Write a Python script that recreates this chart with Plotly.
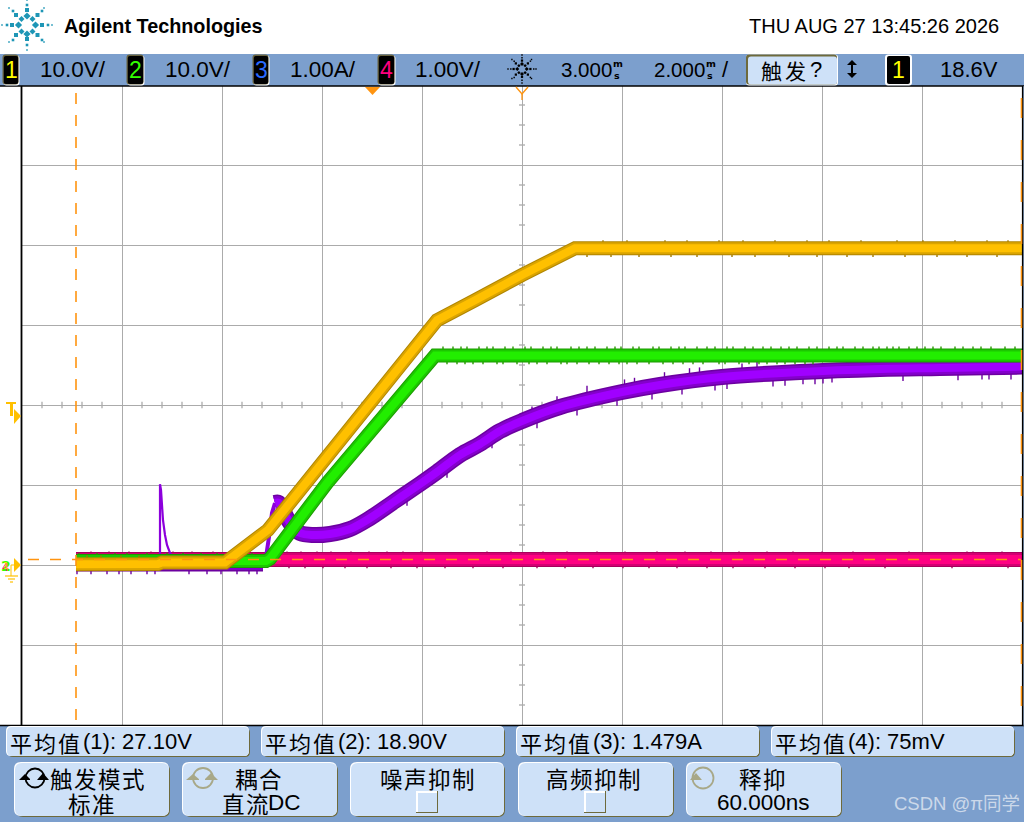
import plotly.graph_objects as go

# ---------- data (time in ms, 2 ms/div; delay 3 ms) ----------
ch1_t = [-5.92, -4.28, -4.20, -2.94, -2.08, 1.30, 2.06, 3.00, 4.06, 13.0]
ch1_v = [0.1, 0.12, 0.31, 0.31, 4.38, 30.6, 33.1, 36.25, 39.6, 39.6]

ch2_t = [-5.92, -2.12, -2.04, -0.90, 1.26, 13.0]
ch2_v = [0.5, 0.5, 0.8, 10.25, 26.2, 26.2]

ch3_flat_t = [-5.92, -2.18]
ch3_flat_i = [0.0, 0.0]
ch3_spike_t = [-4.24, -4.24, -4.22, -4.20, -4.18, -4.14, -4.10, -4.04, -3.94]
ch3_spike_i = [-0.01, 1.01, 0.94, 0.75, 0.56, 0.375, 0.25, 0.15, 0.06]
ch3_rise_t = [-2.16, -2.12, -2.06, -2.00, -1.94]
ch3_rise_i = [0.02, 0.10, 0.35, 0.65, 0.775]
ch3_t = [-1.94, -1.86, -1.70, -1.58, -1.44, -1.20, -0.84, -0.44, -0.10, 0.46, 0.96, 1.30, 1.76,
         2.16, 2.56, 3.00, 3.76, 5.00, 5.76, 7.00, 8.56, 10.16, 11.36, 13.0]
ch3_i = [0.775, 0.775, 0.5875, 0.475, 0.40, 0.375, 0.3875, 0.45, 0.5625, 0.80, 1.0125, 1.1625, 1.375,
         1.5125, 1.675, 1.80, 1.975, 2.1625, 2.25, 2.35, 2.4125, 2.45, 2.4625, 2.48]

ch4_t = [-5.92, 13.0]
ch4_v = [0.07, 0.07]

# noise ticks: times at which a short glitch pokes out of each flat band
ch1_up = [4.62, 5.1, 5.86, 6.3, 6.94, 7.42, 8.06, 8.7, 9.14, 9.78, 10.5, 11.02, 11.66, 12.3, 12.72]
ch1_dn = [4.3, 4.78, 5.34, 5.98, 6.5, 7.2, 7.66, 8.34, 8.9, 9.5, 10.02, 10.66, 11.3, 11.9, 12.5]
ch1_base_up = [-5.7, -5.42, -5.02, -4.66]
ch2_up = [1.42, 1.62, 1.78, 1.9, 2.14, 2.3, 2.42, 2.66, 2.82, 3.06, 3.18, 3.42, 3.58, 3.7, 3.98, 4.14, 4.3, 4.46,
          4.7, 4.86, 4.98, 5.22, 5.34, 5.62, 5.74, 5.98, 6.14, 6.26, 6.5, 6.7, 6.86, 7.1, 7.22, 7.46, 7.62, 7.82,
          7.98, 8.18, 8.34, 8.5, 8.74, 8.9, 9.14, 9.3, 9.42, 9.66, 9.82, 10.02, 10.14, 10.3, 10.42, 10.54,
          10.74, 10.9, 11.06, 11.22, 11.38, 11.66, 11.82, 12.02, 12.18, 12.38, 12.66, 12.86]
ch2_dn = [1.5, 1.7, 1.86, 2.02, 2.22, 2.5, 2.62, 2.9, 3.14, 3.3, 3.5, 3.78, 3.9, 4.1, 4.34, 4.54, 4.74, 4.94, 5.1,
          5.3, 5.54, 5.82, 6.02, 6.22, 6.42, 6.62, 6.94, 7.06, 7.34, 7.54, 7.74, 7.9, 8.1, 8.26, 8.46, 8.66, 8.82]
ch2_base_up = [-5.86, -5.5, -5.14, -4.9, -4.5, -4.1, -3.78, -3.42, -3.1, -2.74, -2.4]
ch3_dn = [-5.9, -5.62, -5.3, -5.06, -4.82, -4.5, -4.34, -3.66, -3.3, -3.02, -2.7, -2.46, -2.3]
ch3_tail_t = [0.7, 1.5, 2.4, 3.3, 4.1, 4.9, 5.6, 6.2, 6.86, 7.1, 8.02, 8.26, 8.62, 8.86, 9.02, 9.2, 10.62, 11.72, 12.2, 12.34, 12.78]
ch3_tail_i = [0.74, 1.09, 1.46, 1.71, 1.87, 1.99, 2.07, 2.13, 2.18, 2.2, 2.23, 2.24, 2.26, 2.26, 2.27, 2.28, 2.3, 2.31, 2.32, 2.32, 2.32]
ch3_top_t = [3.2, 3.7, 4.3, 5.05, 5.25, 5.85, 6.35, 6.55, 7.4, 7.7]
ch3_top_i = [1.98, 2.11, 2.24, 2.32, 2.34, 2.41, 2.46, 2.47, 2.52, 2.54]
ch4_up = [-5.62, -5.26, -4.86, -4.42, -3.98, -3.6, -3.18, -2.82, -2.5, -1.7, -1.42, -1.1, -0.82, -0.42, -0.06, 0.3,
          0.62, 0.98, 2.3, 2.78, 3.42, 3.9, 4.5, 5.06, 5.7, 6.26, 6.78, 7.34, 7.9, 8.42, 9.0, 9.62, 10.74, 11.9, 12.02, 12.6]
ch4_dn = [-1.66, -1.34, -0.98, -0.54, -0.1, 0.38, 0.9, 1.46, 2.02, 2.62, 3.3, 3.86, 4.42, 5.02, 5.54, 6.1, 6.7, 7.22,
          7.86, 8.46, 9.06, 9.54, 10.26, 11.6, 12.72]

# ---------- screen text ----------
channel_labels = ["10.0V/", "10.0V/", "1.00A/", "1.00V/"]
readouts = ["(1): 27.10V", "(2): 18.90V", "(3): 1.479A", "(4): 75mV"]
date_text = "THU AUG 27 13:45:26 2026"

LAT = "Liberation Sans"
CJK = "Noto Sans CJK SC"
PANEL = "#7C9FCD"
BTN = "#CEE1F8"
OLIVE = "#6E6A3C"
GRID = "#ABABAB"
ORANGE = "#FF9410"
TRIG = "#FFC000"

def X(px):
    return (px - 22) / 1000
def Y(py):
    return (725 - py) / 640

shapes, notes = [], []

def poly(points, fill=None, line=None, lw=1, layer="above", close=True):
    d = "M" + " L".join(f"{X(a):.5f},{Y(b):.5f}" for a, b in points) + (" Z" if close else "")
    shapes.append(dict(type="path", xref="paper", yref="paper", path=d, fillcolor=fill or "rgba(0,0,0,0)",
                       line=dict(color=line or "rgba(0,0,0,0)", width=lw), layer=layer))

def rrect(x0, y0, x1, y1, r, fill):
    k = lambda a, b: f"{X(a):.5f},{Y(b):.5f}"
    d = (f"M{k(x0+r,y0)} L{k(x1-r,y0)} Q{k(x1,y0)} {k(x1,y0+r)} L{k(x1,y1-r)} Q{k(x1,y1)} {k(x1-r,y1)} "
         f"L{k(x0+r,y1)} Q{k(x0,y1)} {k(x0,y1-r)} L{k(x0,y0+r)} Q{k(x0,y0)} {k(x0+r,y0)} Z")
    shapes.append(dict(type="path", xref="paper", yref="paper", path=d, fillcolor=fill,
                       line=dict(color="rgba(0,0,0,0)", width=0), layer="above"))

def rect(x0, y0, x1, y1, fill=None, line=None, lw=1, layer="above"):
    shapes.append(dict(type="rect", xref="paper", yref="paper", x0=X(x0), x1=X(x1), y0=Y(y1), y1=Y(y0),
                       fillcolor=fill or "rgba(0,0,0,0)", line=dict(color=line or "rgba(0,0,0,0)", width=lw), layer=layer))

def seg(x0, y0, x1, y1, color, lw=1, dash=None, layer="above"):
    ln = dict(color=color, width=lw)
    if dash:
        ln["dash"] = dash
    shapes.append(dict(type="line", xref="paper", yref="paper", x0=X(x0), x1=X(x1), y0=Y(y0), y1=Y(y1), line=ln, layer=layer))

def circ(cx, cy, r, line, lw=1.6):
    shapes.append(dict(type="circle", xref="paper", yref="paper", x0=X(cx-r), x1=X(cx+r), y0=Y(cy+r), y1=Y(cy-r),
                       line=dict(color=line, width=lw), layer="above"))

def text(px, py, s, size, color="#000000", anchor="left", family=LAT + ", " + CJK, bold=False):
    t = f"<b>{s}</b>" if bold else s
    notes.append(dict(xref="paper", yref="paper", x=X(px), y=Y(py), text=t, showarrow=False, xanchor=anchor, yanchor="middle",
                      font=dict(family=family, size=size, color=color), borderpad=0, borderwidth=0))

def spaced(px, py, s, size, pitch, color="#000000"):
    for i, c in enumerate(s):
        text(px + i * pitch, py, c, size, color=color, anchor="left", family=CJK)

def button(x0, y0, x1, y1, r=5):
    rrect(x0 + 1, y0 + 1, x1 + 1, y1 + 1, r, OLIVE)
    rrect(x0 - 1, y0 - 1, x1, y1, r, "#FFFFFF")
    rrect(x0, y0, x1, y1, r, BTN)

def chip(x0, x1, digit, color):
    rrect(x0 + 0.5, 55.5, x1 + 0.5, 85.5, 3, "#FFFFFF")
    rrect(x0 - 0.5, 54.5, x1 - 0.5, 84.5, 3, "#6A6440")
    rrect(x0 + 0.8, 56, x1 - 0.8, 84, 2, "#000000")
    text((x0 + x1) / 2, 70, digit, 23, color=color, anchor="center", family=LAT)

# star logo marks: (dx, dy, half size, diamond)
star = [
    (0, -25, .8, 0), (0, -20, 1.3, 0), (0, -15, 2, 0), (0, -9, 3.6, 1),
    (0, 25, .8, 0), (0, 20, 1.3, 0), (0, 14, 2, 0), (0, 9, 3.6, 1),
    (-25, 0, .8, 0), (-20, 0, 1.3, 0), (-15, 0, 2, 0), (-8.5, 0, 3.6, 1),
    (25, 0, .8, 0), (21, 0, 1.3, 0), (15, 0, 2, 0), (8.5, 0, 3.6, 1),
    (-11, -10, 2, 0), (-14, -14, 1.3, 0), (-18, -17, .8, 0),
    (10.5, -10, 2, 0), (15, -14, 1.3, 0), (17, -17, .8, 0),
    (-11, 10, 2, 0), (-14, 15, 1.3, 0), (-18, 17, .8, 0),
    (10.5, 10, 2, 0), (15, 15, 1.3, 0), (17, 17, .8, 0),
    (-5.5, -6, 3, 1), (5.5, -6, 3, 1), (-5.5, 6.5, 3, 1), (5.5, 6.5, 3, 1),
]

def draw_star(cx, cy, k, color):
    for dx, dy, s, dia in star:
        a, b, h = cx + dx * k, cy + dy * k, max(s * k, 0.7)
        if dia:
            poly([(a - h, b), (a, b - h), (a + h, b), (a, b + h)], fill=color)
        else:
            rect(a - h, b - h, a + h, b + h, fill=color)

# ---------- panels ----------
rect(0, 54, 1024, 86, fill=PANEL)
rect(0, 726, 1024, 822, fill=PANEL)
seg(0, 86, 1024, 86, "#000000", 1.6)
seg(0, 725.5, 1024, 725.5, "#000000", 1.6)
seg(21.5, 86, 21.5, 725, "#000000", 1.8)
seg(1022.8, 86, 1022.8, 725, "#000000", 1.8)
rect(1023.5, 86, 1024, 726, fill=PANEL)

# logo + header
draw_star(27, 25, 1.0, "#1E96B6")
text(64, 26, "Agilent Technologies", 19.8, bold=True, family=LAT)
text(999, 26, date_text, 20, anchor="right", family=LAT)

for (x0, x1, d, col), tx, lab in zip([(3, 19, "1", "#FFFF00"), (127, 144, "2", "#33FF00"), (253, 269, "3", "#2A6BFF"), (378, 395, "4", "#FF0080")],
                                     [40, 165, 290, 415], channel_labels):
    chip(x0, x1, d, col)
    text(tx, 69.5, lab, 22.5, family=LAT)

draw_star(522, 69, 0.56, "#000000")
text(561, 69.5, "3.000", 20.5, family=LAT)
text(612.5, 63.5, "m", 9.5, family="DejaVu Sans", bold=True)
text(614, 75.5, "s", 9.5, family="DejaVu Sans", bold=True)
text(654, 69.5, "2.000", 20.5, family=LAT)
text(705.5, 63.5, "m", 9.5, family="DejaVu Sans", bold=True)
text(707, 75.5, "s", 9.5, family="DejaVu Sans", bold=True)
text(722, 69.5, "/", 22, family=LAT)

rrect(746, 54.5, 838, 85.5, 3, "#FFFFFF")
rrect(746, 54.5, 837, 84.5, 3, OLIVE)
rrect(748, 56.5, 837, 84.5, 3, BTN)
spaced(761, 70, "触发", 21, 24)
text(810, 69.5, "?", 22, family=LAT)
# up/down arrow
seg(852, 61, 852, 77, "#000000", 2)
poly([(847, 65), (852, 60), (857, 65)], fill="#000000")
poly([(847, 73), (852, 78), (857, 73)], fill="#000000")
rrect(885, 54.5, 912, 85.5, 3, "#FFFFFF")
rrect(887, 56, 910, 84, 2, "#000000")
text(898.5, 70, "1", 23, color="#FFFF00", anchor="center", family=LAT)
text(998, 69.5, "18.6V", 22, anchor="right", family=LAT)

# trigger / delay markers
poly([(365, 87), (380, 87), (372.5, 95)], fill="#FF9410")
poly([(516, 87), (522, 94), (528, 87)], line=ORANGE, lw=1.4, close=False)
seg(522, 93, 522, 100, ORANGE, 1.3)

# left side markers
rect(6, 402, 16, 404, fill=TRIG)
rect(10, 404, 13, 416, fill=TRIG)
poly([(14, 409), (21, 416), (14, 424)], fill=TRIG)
poly([(14, 558), (21, 565), (14, 572)], fill=TRIG)
seg(11, 565, 14, 565, TRIG, 1)
seg(11, 565, 11, 576, TRIG, 1)
seg(5, 576, 18, 576, TRIG, 1.2)
seg(8, 579, 15, 579, TRIG, 1.2)
seg(10, 582, 13, 582, TRIG, 1.2)
text(5.5, 566, "2", 14, color="#33FF00", anchor="center", family="DejaVu Sans", bold=True)
text(5.5, 567, "4", 11, color="#FF0080", anchor="center", family="DejaVu Sans")
text(5.5, 566, "1", 9, color="#FFE000", anchor="center", family="DejaVu Sans")

# ---------- readouts ----------
for x0, x1, lab in zip([7, 262, 517, 772], [249, 504, 759, 1014], readouts):
    button(x0, 727, x1, 756)
    spaced(x0 + 3, 742, "平均值", 22, 24)
    text(x0 + 76, 741.5, lab, 22, family=LAT)

# ---------- soft keys ----------
for x0, x1 in [(15, 169), (183, 337), (351, 504), (519, 673), (687, 841)]:
    button(x0, 763, x1, 816, r=7)

spaced(50, 778, "触发模式", 22.5, 24)
spaced(68, 803, "标准", 22.5, 24)
spaced(235, 778, "耦合", 22.5, 24)
spaced(222, 803, "直流", 22.5, 24)
text(268, 802, "DC", 22.5, family=LAT)
spaced(380, 778, "噪声抑制", 22.5, 24)
spaced(546, 778, "高频抑制", 22.5, 24)
spaced(739, 778, "释抑", 22.5, 24)
text(763.5, 802.5, "60.000ns", 22.5, anchor="center", family=LAT)

# check boxes
for x0 in (417, 585):
    rect(x0 - 1, 791, x0 + 21, 813, fill=OLIVE)
    rect(x0 - 1, 791, x0 + 20, 812, fill="#FFFFFF")
    rect(x0 + 1, 793, x0 + 20, 812, fill=BTN)

# rotary icons
circ(35, 778, 9.5, "#000000", 1.8)
poly([(19, 780), (25, 774), (31, 780)], fill="#000000")
poly([(37, 780), (43, 773), (49, 780)], fill="#000000")
rect(30, 777, 36, 782, fill=BTN)
circ(203, 778, 10, "#A8A888", 1.8)
poly([(186, 780), (193, 774), (200, 780)], fill="#A8A888")
poly([(204, 780), (211, 773), (218, 780)], fill="#A8A888")
rect(199, 776, 205, 782, fill=BTN)
circ(703, 778, 10.5, "#A8A888", 1.8)
poly([(690, 780), (696, 773), (702, 780)], fill="#A8A888")

# watermark
text(1020, 803, "CSDN @π同学", 18.5, color="rgba(236,240,246,0.72)", anchor="right", family=LAT + ", " + CJK)

# ---------- graticule extras (main y axis: channel 4, 1 V/div, screen centre = 2 V) ----------
for i in range(1, 50):
    t = -7 + 0.4 * i
    if i % 5:
        shapes.append(dict(type="line", xref="x", yref="y", x0=t, x1=t, y0=1.96, y1=2.04, line=dict(color=GRID, width=1.3), layer="below"))
for i in range(1, 32):
    v = -2 + 0.25 * i
    if i % 4:
        shapes.append(dict(type="line", xref="x", yref="y", x0=2.94, x1=3.06, y0=v, y1=v, line=dict(color=GRID, width=1.3), layer="below"))

# cursors
seg(76, 93, 76, 725, ORANGE, 1.6, dash="11px,11px")
seg(1021.5, 98, 1021.5, 725, ORANGE, 1.6, dash="20px,22px")
seg(28, 559.5, 1021, 559.5, ORANGE, 1.3, dash="11px,11px")

# ---------- traces ----------
fig = go.Figure()

def band(t, v, yax, colors, widths, shape="linear"):
    for c, w in zip(colors, widths):
        fig.add_trace(go.Scatter(x=t, y=v, yaxis=yax, mode="lines", line=dict(color=c, width=w, simplify=False, shape=shape),
                                 hoverinfo="skip", showlegend=False))

def ticks(times, lo, hi, yax, color, w=1.4):
    xs, ys = [], []
    for t in times:
        xs += [t, t, None]
        ys += [lo, hi, None]
    fig.add_trace(go.Scatter(x=xs, y=ys, yaxis=yax, mode="lines", line=dict(color=color, width=w),
                             hoverinfo="skip", showlegend=False))

def tips(times, ends, delta, yax, color, w=1.4):
    xs, ys = [], []
    for t, v in zip(times, ends):
        xs += [t, t, None]
        ys += [v, v + delta, None]
    fig.add_trace(go.Scatter(x=xs, y=ys, yaxis=yax, mode="lines", line=dict(color=color, width=w),
                             hoverinfo="skip", showlegend=False))

PINK = ["#A8005C", "#D40072", "#FF0082"]
PURPLE = ["#6C00A0", "#8400CC", "#A000FF"]
GREEN = ["#1C9A00", "#1CC800", "#22EE00"]
YEL = ["#B08500", "#DAA400", "#FFC000"]

# channel 4 (main axis, drawn first)
ticks(ch4_up, 0.07, 0.17, "y", "#A8005C")
ticks(ch4_dn, 0.07, -0.04, "y", "#A8005C")
band(ch4_t, ch4_v, "y", PINK, [15, 13, 9])

# channel 3
ticks(ch3_dn, 0.0, -0.115, "y2", "#6C00A0")
fig.add_trace(go.Scatter(x=ch3_spike_t, y=ch3_spike_i, yaxis="y2", mode="lines", line=dict(color="#8C00DC", width=2.2),
                         hoverinfo="skip", showlegend=False))
fig.add_trace(go.Scatter(x=ch3_rise_t, y=ch3_rise_i, yaxis="y2", mode="lines", line=dict(color="#8C00DC", width=4),
                         hoverinfo="skip", showlegend=False))
band(ch3_flat_t, ch3_flat_i, "y2", PURPLE, [13, 10, 6])
tips(ch3_tail_t, ch3_tail_i, 0.12, "y2", "#6C00A0")
tips(ch3_top_t, ch3_top_i, -0.12, "y2", "#6C00A0")
band(ch3_t, ch3_i, "y2", PURPLE, [16, 13, 8], shape="spline")

# channel 2
ticks(ch2_up, 26.2, 27.3, "y3", "#2A9A00")
ticks(ch2_dn, 26.2, 25.1, "y3", "#2A9A00")
ticks(ch2_base_up, 0.5, 1.5, "y3", "#2A9A00")
band(ch2_t, ch2_v, "y3", GREEN, [14, 12, 8])

# channel 1
ticks(ch1_up, 39.6, 40.6, "y3", "#A07800")
ticks(ch1_dn, 39.6, 38.5, "y3", "#A07800")
ticks(ch1_base_up, 0.2, 1.2, "y3", "#A07800")
band(ch1_t, ch1_v, "y3", YEL, [14, 12, 8])

common = dict(showticklabels=False, ticks="", zeroline=False, showline=False, fixedrange=True)
fig.update_layout(
    width=1024, height=822,
    margin=dict(l=22, r=2, t=85, b=97, pad=0, autoexpand=False),
    paper_bgcolor="#FFFFFF", plot_bgcolor="#FFFFFF",
    showlegend=False, hovermode=False,
    xaxis=dict(range=[-7, 13], tick0=-7, dtick=2, showgrid=True, gridcolor=GRID, gridwidth=1.3, **common),
    yaxis=dict(range=[-2, 6], tick0=-2, dtick=1, showgrid=True, gridcolor=GRID, gridwidth=1.3, **common),
    yaxis2=dict(range=[-2, 6], overlaying="y", visible=False),
    yaxis3=dict(range=[-20, 60], overlaying="y", visible=False),
    shapes=shapes, annotations=notes,
)
fig.write_html("out.html", config=dict(displayModeBar=False),
               post_script="document.body.style.margin='0';document.body.style.overflow='hidden';")
